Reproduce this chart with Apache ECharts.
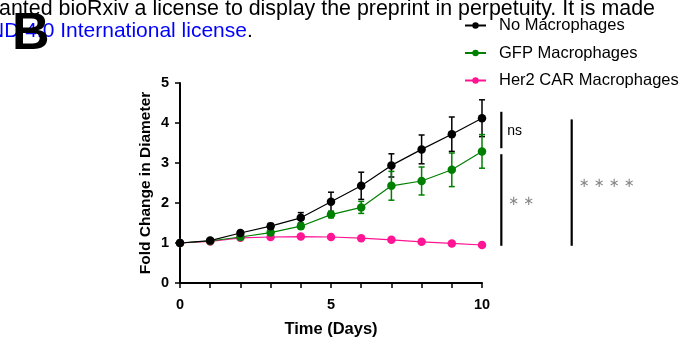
<!DOCTYPE html>
<html><head><meta charset="utf-8">
<script src="https://cdn.jsdelivr.net/npm/echarts@6/dist/echarts.min.js"></script>
<style>html,body{margin:0;padding:0;background:#fff}#c{width:694px;height:348px}</style>
</head><body><div id="c"></div>
<script>
const days = [0,1,2,3,4,5,6,7,8,9,10];
const seriesNames = ['No Macrophages','GFP Macrophages','Her2 CAR Macrophages'];
const noMac    = [1.00,1.06,1.25,1.42,1.63,2.03,2.43,2.94,3.34,3.72,4.12];
const noMacErr = [0.00,0.02,0.05,0.07,0.13,0.24,0.34,0.29,0.36,0.43,0.46];
const gfpMac   = [1.00,1.05,1.15,1.26,1.42,1.71,1.89,2.43,2.55,2.83,3.29];
const gfpErr   = [0.00,0.02,0.04,0.05,0.06,0.08,0.15,0.36,0.35,0.42,0.42];
const her2Mac  = [1.00,1.04,1.13,1.15,1.16,1.15,1.12,1.08,1.03,0.99,0.95];
const her2Err  = [0.00,0.01,0.02,0.02,0.02,0.02,0.02,0.02,0.02,0.02,0.02];
const colors = ['#000000','#008000','#ff1493'];
// significance brackets: [x, yTop, yBottom, label, labelY]
const brackets = [
  [10.64, 4.28, 3.37, 'ns', 3.80],
  [10.64, 3.22, 0.93, '\u2217 \u2217', 2.03],
  [12.97, 4.09, 0.93, '\u2217 \u2217 \u2217 \u2217', 2.49]
];
const FONT = 'Arial, "Liberation Sans", sans-serif';

const chart = echarts.init(document.getElementById('c'), null, {renderer:'canvas'});

function errSeries(vals, errs, color){
  return {
    type:'custom', silent:true, z:1,
    data: days.map((d,i)=>[d, vals[i], errs[i]]),
    renderItem: function(params, api){
      const x = api.value(0), y = api.value(1), e = api.value(2);
      if (!e) return null;
      const top = api.coord([x, y+e]), bot = api.coord([x, y-e]);
      const w = 3;
      const st = {stroke: color, lineWidth: 1.5};
      return {type:'group', children:[
        {type:'line', shape:{x1:top[0],y1:top[1],x2:bot[0],y2:bot[1]}, style:st},
        {type:'line', shape:{x1:top[0]-w,y1:top[1],x2:top[0]+w,y2:top[1]}, style:st},
        {type:'line', shape:{x1:bot[0]-w,y1:bot[1],x2:bot[0]+w,y2:bot[1]}, style:st}
      ]};
    }
  };
}
function lineSeries(name, vals, color){
  return {
    name, type:'line', z:3,
    data: days.map((d,i)=>[d, vals[i]]),
    symbol:'circle', symbolSize:8.5, showSymbol:true,
    itemStyle:{color}, lineStyle:{color, width:1.2},
    emphasis:{disabled:true}, animation:false
  };
}

const option = {
  animation:false,
  grid:{left:180, right:212, top:83, bottom:65},
  legend:{
    orient:'vertical', left:464, top:17, padding:0, itemWidth:21, itemHeight:8, itemGap:10.5,
    data: seriesNames,
    textStyle:{fontFamily:FONT, fontSize:16.5, color:'#000', padding:[0,0,0,8]}
  },
  xAxis:{
    type:'value', min:0, max:10, interval:5,
    name:'Time (Days)', nameLocation:'middle', nameGap:38,
    nameTextStyle:{fontFamily:FONT, fontWeight:'bold', fontSize:16.5, color:'#000'},
    axisLine:{lineStyle:{color:'#000', width:2}},
    axisTick:{length:5, lineStyle:{color:'#000', width:1.5}},
    minorTick:{show:true, splitNumber:5, length:5, lineStyle:{color:'#000', width:1.5}},
    axisLabel:{fontFamily:FONT, fontWeight:'bold', fontSize:14.5, color:'#000', margin:14},
    splitLine:{show:false}
  },
  yAxis:{
    type:'value', min:0, max:5, interval:1,
    name:'Fold Change in Diameter', nameLocation:'middle', nameGap:26, nameRotate:90,
    nameTextStyle:{fontFamily:FONT, fontWeight:'bold', fontSize:15.5, color:'#000'},
    axisLine:{show:true, lineStyle:{color:'#000', width:2}},
    axisTick:{show:true, length:5, lineStyle:{color:'#000', width:1.5}},
    axisLabel:{fontFamily:FONT, fontWeight:'bold', fontSize:14.5, color:'#000', margin:11},
    splitLine:{show:false}
  },
  series:[
    errSeries(noMac, noMacErr, colors[0]),
    errSeries(gfpMac, gfpErr, colors[1]),
    errSeries(her2Mac, her2Err, colors[2]),
    lineSeries(seriesNames[2], her2Mac, colors[2]),
    lineSeries(seriesNames[1], gfpMac, colors[1]),
    lineSeries(seriesNames[0], noMac, colors[0]),
    {
      type:'custom', silent:true, clip:false, z:2,
      data: brackets,
      renderItem: function(params, api){
        const b = brackets[params.dataIndex];
        const p1 = api.coord([b[0], b[1]]), p2 = api.coord([b[0], b[2]]);
        const pl = api.coord([b[0], b[4]]);
        const isNs = b[3] === 'ns';
        return {type:'group', children:[
          {type:'line', shape:{x1:p1[0],y1:p1[1],x2:p2[0],y2:p2[1]}, style:{stroke:'#000', lineWidth:2.2}},
          {type:'text', x:p1[0]+ (isNs?6:7), y:pl[1], style:{
            text:b[3], fontFamily: isNs?FONT:'"DejaVu Sans", sans-serif', fontSize: isNs?14:13,
            fill: isNs?'#000':'#888', verticalAlign:'middle', align:'left'}}
        ]};
      }
    }
  ],
  graphic:[
    {type:'text', left:-20, top:-1, z:0, style:{
      text:'granted bioRxiv a license to display the preprint in perpetuity. It is made',
      fontFamily:FONT, fontSize:21.4, fill:'#000'}},
    {type:'text', left:-11, top:21, z:0, style:{
      text:'{b|ND 4.0 International license}{k|.}',
      fontFamily:FONT, fontSize:21,
      rich:{b:{fill:'#0000ff', fontFamily:FONT, fontSize:21}, k:{fill:'#000', fontFamily:FONT, fontSize:21}}}},
    {type:'text', left:12, top:9, z:10, style:{
      text:'B', fontFamily:FONT, fontWeight:'bold', fontSize:52, fill:'#000'}}
  ]
};
chart.setOption(option);
</script></body></html>
